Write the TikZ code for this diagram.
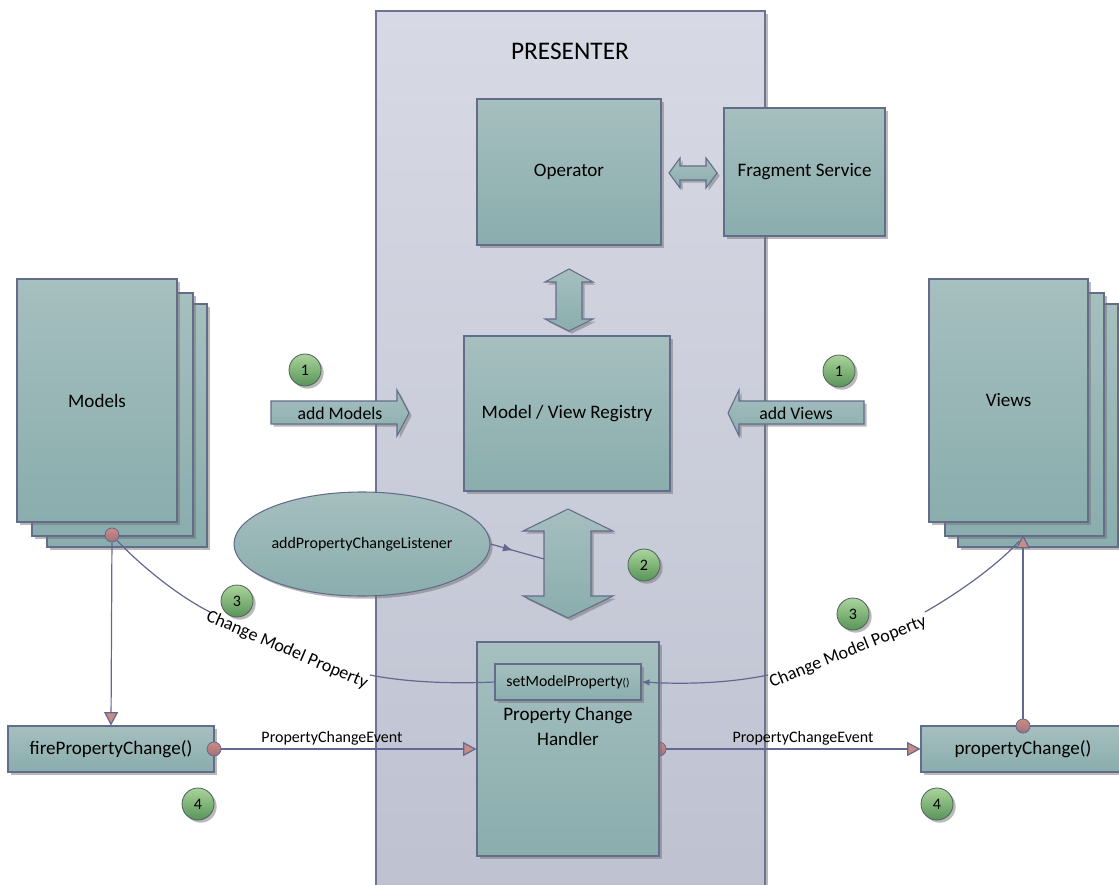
\documentclass[tikz,border=0pt]{standalone}
\usepackage{fontspec}
\setmainfont{Carlito}
\usetikzlibrary{shapes.geometric,shadows,arrows.meta,decorations.markings}
\definecolor{boxtop}{RGB}{166,191,191}
\definecolor{boxbot}{RGB}{138,173,173}
\definecolor{boxline}{RGB}{100,108,140}
\definecolor{prestop}{RGB}{215,218,228}
\definecolor{presbot}{RGB}{190,193,208}
\definecolor{presline}{RGB}{110,115,145}
\definecolor{connc}{RGB}{98,104,145}
\definecolor{tipfill}{RGB}{200,140,132}
\definecolor{dottop}{RGB}{205,140,130}
\definecolor{dotbot}{RGB}{160,112,125}
\definecolor{greentop}{RGB}{170,212,155}
\definecolor{greenbot}{RGB}{88,148,88}
\definecolor{greenline}{RGB}{80,95,95}
\begin{document}
\begin{tikzpicture}[x=0.75pt,y=-0.75pt,
  shadowed/.style={drop shadow={shadow xshift=2pt,shadow yshift=-2pt,fill=black!55,opacity=0.5}},
  box/.style={shape=rectangle, draw=boxline, line width=0.8pt, top color=boxtop, bottom color=boxbot, shadowed, inner sep=0pt, font=\fontsize{14.3}{17}\selectfont},
  barrow/.style={draw=boxline, line width=0.8pt, top color=boxtop, bottom color=boxbot, shadowed},
  num/.style={circle, draw=greenline, line width=0.6pt, top color=greentop, bottom color=greenbot, shadowed, minimum size=24pt, inner sep=0pt, font=\fontsize{12}{14}\selectfont},
  dot/.style={circle, draw=connc, line width=0.6pt, top color=dottop, bottom color=dotbot, minimum size=10.5pt, inner sep=0pt},
  conn/.style={draw=connc, line width=0.9pt},
  tri/.style={-{Triangle[length=10pt,width=10.5pt,fill=tipfill]}},
  lbl/.style={font=\fontsize{12}{14}\selectfont, inner sep=1pt},
  cml/.style={font=\fontsize{13.5}{16}\selectfont, inner sep=1pt}
]
\useasboundingbox (0,0) rectangle (1119,884);

% Presenter background
\node[shape=rectangle, draw=presline, line width=0.8pt, top color=prestop, bottom color=presbot, shadowed,
      minimum width=389*0.75pt, minimum height=889*0.75pt, inner sep=0pt] (presenter) at (570.5,455.5) {};
\node[font=\fontsize{19}{22}\selectfont] (ptitle) at (570,51) {PRESENTER};

% Models stack
\node[box, minimum width=160*0.75pt, minimum height=243*0.75pt] (m3) at (127,425.5) {};
\node[box, minimum width=161*0.75pt, minimum height=243*0.75pt] (m2) at (112.5,414.5) {};
\node[box, minimum width=160*0.75pt, minimum height=243*0.75pt] (m1) at (97,400.5) {Models};

% Views stack
\node[box, minimum width=160*0.75pt, minimum height=243*0.75pt] (v3) at (1038,425.5) {};
\node[box, minimum width=159*0.75pt, minimum height=243*0.75pt] (v2) at (1024.5,414.5) {};
\node[box, minimum width=159*0.75pt, minimum height=243*0.75pt] (v1) at (1008.5,400.5) {Views};

% Operator / Fragment service
\node[box, minimum width=184*0.75pt, minimum height=146*0.75pt] (op) at (569,172) {Operator};
\node[box, minimum width=161*0.75pt, minimum height=128*0.75pt] (frag) at (804.5,172) {Fragment Service};
\path[barrow] (669,173) -- (680,158) -- (680,166) -- (706,166) -- (706,158) -- (717,173)
   -- (706,188) -- (706,180) -- (680,180) -- (680,188) -- cycle;

% vertical double arrow 1
\path[barrow] (569,269) -- (593,282) -- (582,282) -- (582,319) -- (593,319) -- (569,331)
   -- (545,319) -- (556,319) -- (556,282) -- (545,282) -- cycle;

% Registry
\node[box, minimum width=206*0.75pt, minimum height=155*0.75pt] (reg) at (567,413.5) {Model / View Registry};

% add Models / add Views
\path[barrow] (271,401) -- (397,401) -- (397,390) -- (409,413) -- (397,436) -- (397,424) -- (271,424) -- cycle;
\node[font=\fontsize{13.3}{16}\selectfont] (addm) at (340,413) {add Models};
\path[barrow] (864,401) -- (739,401) -- (739,390) -- (728,413) -- (739,436) -- (739,424) -- (864,424) -- cycle;
\node[font=\fontsize{13.3}{16}\selectfont] (addv) at (796,413) {add Views};

% ellipse
\node[box, ellipse, minimum width=216*0.75pt, minimum height=104*0.75pt, font=\fontsize{12}{14}\selectfont] (ell) at (362,544) {addPropertyChangeListener};

% vertical double arrow 2
\path[barrow] (568,509) -- (613,531) -- (591,531) -- (591,596) -- (613,596) -- (568,618)
   -- (523,596) -- (544,596) -- (544,531) -- (523,531) -- cycle;
\coordinate (a2w) at (544,559);

% Property change handler
\node[dot] (pchdot) at (659,749) {};
\node[box, minimum width=182*0.75pt, minimum height=214*0.75pt] (pch) at (568,749) {};
\node[font=\fontsize{14.3}{18.75}\selectfont, align=center] (pchtext) at (568,726) {Property Change\\Handler};
\node[box, minimum width=146*0.75pt, minimum height=36*0.75pt, font=\fontsize{11.8}{14}\selectfont] (smp) at (568,682) {setModelProperty\fontsize{8.5}{10}\selectfont()};

% side boxes
\node[box, minimum width=206*0.75pt, minimum height=46*0.75pt] (fire) at (111,749) {firePropertyChange()};
\node[box, minimum width=204*0.75pt, minimum height=46*0.75pt] (pc) at (1023,749) {propertyChange()};

% dots
\node[dot] (mdot) at (112,535) {};
\node[dot] (fdot) at (214,749) {};
\node[dot] (pcdot) at (1023,726) {};

% coordinates for curves
\coordinate (lc1) at (210,612);
\coordinate (lc2) at (370,675);
\coordinate (rc0) at (1019,541);
\coordinate (rc1) at (925,612);
\coordinate (rc2) at (768,675);
\coordinate (vtip) at (1023,535);

% connectors
\draw[conn,tri] (mdot) -- (fire.north);
\draw[conn] (mdot) .. controls (140,565) and (178,596) .. (lc1);
\node[cml, rotate=-23] (lcl) at (287,650) {Change Model Property};
\draw[conn] (lc2) .. controls (405,682) and (450,684) .. (smp.west);

\draw[conn,tri] (fdot) -- (pch.west);
\node[lbl] (pce1) at (332,738) {PropertyChangeEvent};
\draw[conn,tri] (pchdot) -- (pc.west);
\node[lbl] (pce2) at (803,738) {PropertyChangeEvent};

\draw[conn,tri] (pcdot) -- (vtip);
\draw[conn] (rc0) .. controls (1000,563) and (960,592) .. (rc1);
\node[cml, rotate=22] (rcl) at (848,652) {Change Model Poperty};
\draw[conn,-{Latex[length=6pt,width=5pt]}] (rc2) .. controls (725,684) and (680,684) .. (smp.east);

\draw[conn, decoration={markings, mark=at position 0.42 with {\arrow{Latex[length=7.5pt,width=6pt]}}}, postaction={decorate}] (ell.east) -- (a2w);

% numbers
\node[num] (n1a) at (305,370) {1};
\node[num] (n1b) at (839,371) {1};
\node[num] (n2) at (644,565) {2};
\node[num] (n3a) at (237,601) {3};
\node[num] (n3b) at (853,614) {3};
\node[num] (n4a) at (198,804) {4};
\node[num] (n4b) at (937,804) {4};
\end{tikzpicture}
\end{document}
